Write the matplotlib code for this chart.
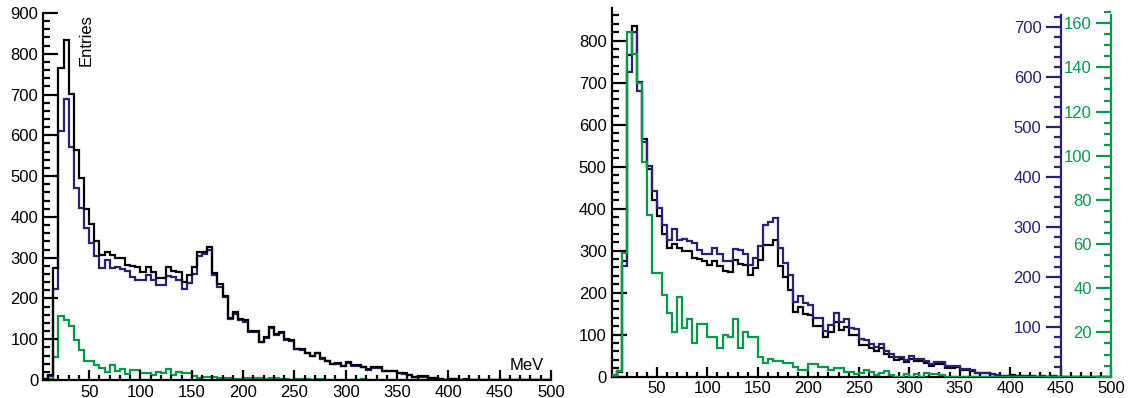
import numpy as np
import matplotlib.pyplot as plt
from matplotlib.ticker import MultipleLocator, FuncFormatter

plt.rcParams['font.family'] = ['Liberation Sans', 'DejaVu Sans']
plt.rcParams['font.size'] = 12

# 5 MeV bins from 5 to 500 MeV
edges = np.arange(5, 505, 5)

# all entries (black)
total = [2, 12, 275, 766, 835, 702, 565, 495, 420, 382,
         340, 307, 315, 307, 300, 300, 282, 280, 276, 266,
         276, 264, 251, 249, 278, 268, 266, 241, 258, 278,
         314, 314, 325, 263, 236, 206, 153, 166, 150, 147,
         120, 120, 94, 106, 129, 112, 118, 100, 98, 76,
         75, 67, 60, 67, 53, 47, 40, 41, 35, 43,
         36, 36, 33, 26, 31, 31, 21, 21, 23, 16,
         16, 13, 8, 9, 9, 6, 4, 2, 1, 3,
         2, 1, 2, 1, 0, 1, 0, 1, 0, 0,
         0, 0, 0, 0, 0, 0, 0, 0, 0]

# first component (purple)
comp_a = [2, 11, 222, 610, 690, 572, 470, 422, 372, 337,
          304, 274, 295, 274, 276, 272, 268, 253, 246, 245,
          257, 246, 232, 232, 255, 253, 246, 224, 238, 261,
          304, 309, 318, 258, 228, 204, 150, 162, 147, 143,
          118, 117, 92, 104, 127, 110, 115, 98, 96, 75,
          73, 66, 59, 65, 52, 46, 40, 40, 34, 42,
          35, 35, 32, 25, 30, 30, 21, 21, 22, 16,
          15, 13, 8, 8, 8, 6, 4, 2, 1, 2,
          2, 1, 1, 1, 0, 1, 0, 1, 0, 0,
          0, 0, 0, 0, 0, 0, 0, 0, 0]

# second component (green)
comp_b = [0.5, 2.5, 56, 156, 146, 133, 97, 73, 47, 47,
          37, 29, 20, 36, 22, 26, 15, 24, 24, 18,
          18, 13, 19, 18, 26, 13, 20, 18, 18, 9,
          6, 8, 7, 7, 6, 6, 4.5, 3, 3, 5.5,
          5.5, 4.5, 4.5, 3, 4, 4, 2, 2, 1.2, 1.5,
          3, 2, 0.5, 1.5, 2.7, 0.5, 0, 0, 1.2, 0,
          1.2, 0, 1.5, 1.2, 1.2, 0.5, 0, 0, 0, 0,
          0, 0, 0, 0, 0, 0, 0, 0, 0, 0,
          0, 0, 0, 0, 0, 0, 0, 0, 0, 0,
          0, 0, 0, 0, 0, 0, 0, 0, 0]

purple = '#2c1f74'
green = '#039a4a'
lw = 1.6


def frame(ax, ymax):
    ax.set_xlim(5, 500)
    ax.set_ylim(0, ymax)
    for s in ('top', 'right'):
        ax.spines[s].set_visible(False)
    for s in ('left', 'bottom'):
        ax.spines[s].set_linewidth(1.6)
    ax.xaxis.set_major_locator(MultipleLocator(50))
    ax.xaxis.set_minor_locator(MultipleLocator(10))
    ax.yaxis.set_major_locator(MultipleLocator(100))
    ax.yaxis.set_minor_locator(MultipleLocator(20))
    ax.tick_params(axis='x', which='both', direction='in', width=1.6, pad=3.5)
    ax.tick_params(axis='x', which='major', length=7.5)
    ax.tick_params(axis='x', which='minor', length=3.8)
    ax.tick_params(axis='y', which='both', direction='in', width=1.6, pad=3.5)
    ax.tick_params(axis='y', which='major', length=10.8)
    ax.tick_params(axis='y', which='minor', length=5.2)


def side_axis(ax, xpos, color, top, major, minor):
    # extra scale drawn inside the pad, like a ROOT TGaxis
    tw = ax.twinx()
    tw.set_ylim(0, top * 1.018)
    tw.yaxis.tick_left()
    for s in ('top', 'right', 'bottom'):
        tw.spines[s].set_visible(False)
    tw.spines['left'].set_position(('data', xpos))
    tw.spines['left'].set_color(color)
    tw.spines['left'].set_linewidth(1.6)
    tw.spines['left'].set_bounds(0, top)
    tw.yaxis.set_major_locator(MultipleLocator(major))
    tw.yaxis.set_minor_locator(MultipleLocator(minor))
    tw.yaxis.set_major_formatter(FuncFormatter(lambda v, p: '' if v == 0 else f'{v:g}'))
    tw.tick_params(axis='y', which='both', direction='out', width=1.6,
                   color=color, labelcolor=color, pad=3)
    tw.tick_params(axis='y', which='major', length=10.8)
    tw.tick_params(axis='y', which='minor', length=5.2)
    return tw


fig = plt.figure(figsize=(11.29, 3.98), dpi=100)

# left: everything on one scale
ax1 = fig.add_axes([43 / 1129, 18 / 398, 508 / 1129, 367 / 398])
ax1.stairs(comp_b, edges, color=green, lw=lw)
ax1.stairs(comp_a, edges, color=purple, lw=lw)
ax1.stairs(total, edges, color='black', lw=lw)
frame(ax1, 900)
ax1.text(0.986, 0.018, 'MeV', transform=ax1.transAxes, ha='right', va='bottom')
ax1.text(0.085, 0.997, 'Entries', transform=ax1.transAxes, rotation=90,
         ha='center', va='top')

# right: each histogram on its own scale
ax2 = fig.add_axes([611.5 / 1129, 21.4 / 398, 499.5 / 1129, 368.3 / 398])
ax2.stairs(total, edges, color='black', lw=lw)
frame(ax2, max(total) * 1.05)

axp = side_axis(ax2, 450, purple, max(comp_a) * 1.05, 100, 20)
axp.stairs(comp_a, edges, color=purple, lw=lw)
axg = side_axis(ax2, 500, green, max(comp_b) * 1.05, 20, 5)
axg.stairs(comp_b, edges, color=green, lw=lw)

fig.savefig('out.png', dpi=100)
